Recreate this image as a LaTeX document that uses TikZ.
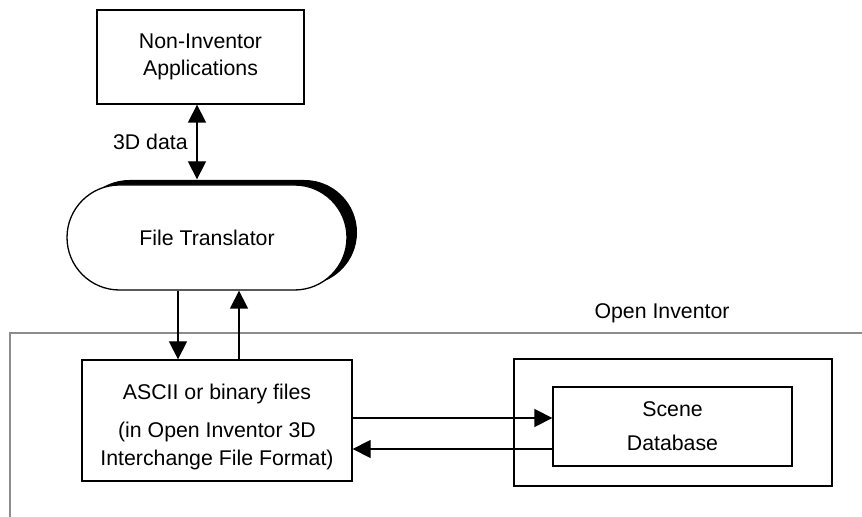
\documentclass[tikz,border=0pt]{standalone}
\usepackage{fontspec}
\setmainfont{Liberation Sans}
\usetikzlibrary{arrows.meta,shadows,calc}
\begin{document}
\begin{tikzpicture}[x=0.5pt,y=-0.5pt,line width=0.65pt,
        font=\fontsize{10.65}{13.5}\selectfont,
        box/.style={draw,rectangle,align=center,inner sep=0pt},
        tip/.style={-{Triangle[length=9pt,width=9pt]}},
        tips/.style={{Triangle[length=9pt,width=9pt]}-{Triangle[length=9pt,width=9pt]}}]
        \useasboundingbox (0,0) rectangle (862,517);
        \draw[black!45] (10,517) coordinate (oibottom) -- (10,333) coordinate (oicorner) -- (862,333) coordinate (oiright);
        \node (oilabel) at (662,313) {Open Inventor};
        \node[box,minimum width=103.5pt,minimum height=47pt] (apps) at (200.5,57) {Non-Inventor\\Applications};
        \node[box,minimum width=140pt,minimum height=52.5pt,rounded corners=26.25pt,fill=white,
            drop shadow={shadow xshift=5pt,shadow yshift=2.5pt,fill=black,opacity=1}] (trans) at (207,237.5) {File Translator};
        \node[box,minimum width=135pt,minimum height=60.5pt] (ascii) at (217,420.5) {};
        \node[align=center,inner sep=0pt] (asciitext) at (217,427) {ASCII or binary files\\[5.5pt](in Open Inventor 3D\\[0.5pt]Interchange File Format)};
        \node[box,minimum width=159pt,minimum height=63.5pt] (outer) at (673,422.5) {};
        \node[box,minimum width=119.5pt,minimum height=39.5pt] (db) at (672.5,426.5) {Scene\\[3.5pt]Database};
        \draw[tips] ([xshift=-1.75pt]apps.south) -- ([xshift=-1.75pt,yshift=2.5pt]apps.south |- trans.north) node[midway,left=1pt] {3D data};
        \draw[tip] ($(trans.south)+(-29,0)$) -- ($(trans.south |- ascii.north)+(-29,0)$);
        \draw[tip] ($(trans.south |- ascii.north)+(32,0)$) -- ($(trans.south)+(32,0)$);
        \draw[tip] ([yshift=1.25pt]ascii.east) -- ([yshift=1.25pt]ascii.east -| db.west);
        \draw[tip] ([yshift=-14.25pt]ascii.east -| db.west) -- ([yshift=-14.25pt]ascii.east);
\end{tikzpicture}
\end{document}
